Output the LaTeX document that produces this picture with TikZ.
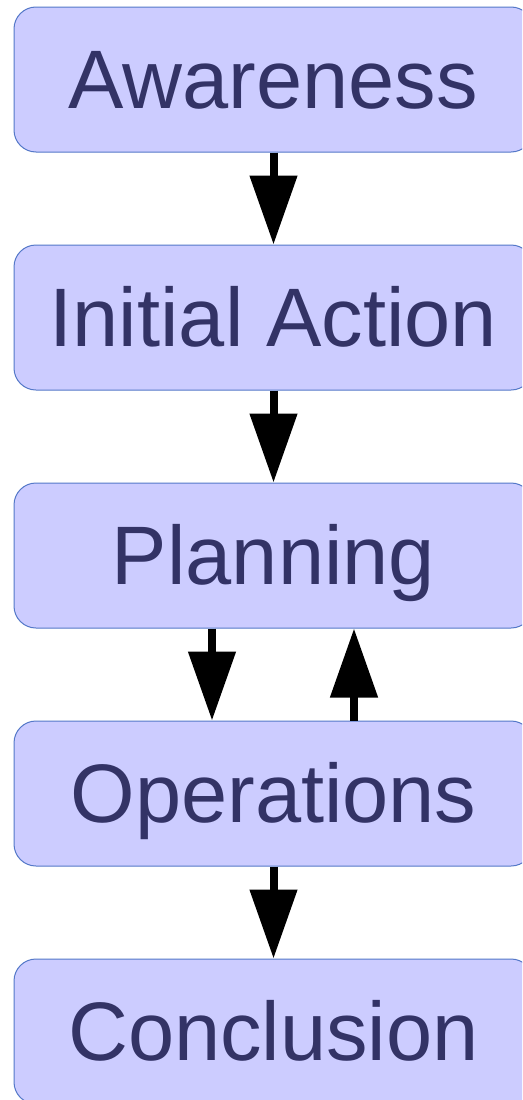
\documentclass[tikz,border=0pt]{standalone}
\usepackage{fontspec}
\setmainfont{Liberation Sans}
\usetikzlibrary{arrows.meta}
\definecolor{boxfill}{HTML}{CCCCFF}
\definecolor{boxline}{HTML}{5478C8}
\definecolor{boxtext}{HTML}{333366}
\begin{document}
\begin{tikzpicture}[x=1pt,y=-1pt,
  stagebox/.style={draw=boxline, fill=boxfill, line width=1pt, rounded corners=22pt,
    minimum width=519pt, minimum height=145pt, inner sep=0pt,
    text height=60pt, text depth=3pt, text=boxtext,
    font=\fontsize{83}{90}\selectfont},
  arr/.style={line width=8pt, -{Triangle[length=69pt,width=46pt]}}]
\useasboundingbox (0,0) rectangle (522,1100);
\clip (0,0) rectangle (522,1100);
\fill[white] (0,0) rectangle (522,1100);
\node[stagebox] (aw) at (273.5,79.5) {Awareness};
\node[stagebox] (ia) at (273.5,317.5) {Initial Action};
\node[stagebox] (pl) at (273.5,555.5) {Planning};
\node[stagebox] (op) at (273.5,793.5) {Operations};
\node[stagebox] (co) at (273.5,1031.5) {Conclusion};
\draw[arr] (aw.south) -- (ia.north);
\draw[arr] (ia.south) -- (pl.north);
\draw[arr] ([xshift=-61.5pt]pl.south) -- ([xshift=-61.5pt]op.north);
\draw[arr] ([xshift=80.5pt]op.north) -- ([xshift=80.5pt]pl.south);
\draw[arr] (op.south) -- (co.north);
\end{tikzpicture}
\end{document}
